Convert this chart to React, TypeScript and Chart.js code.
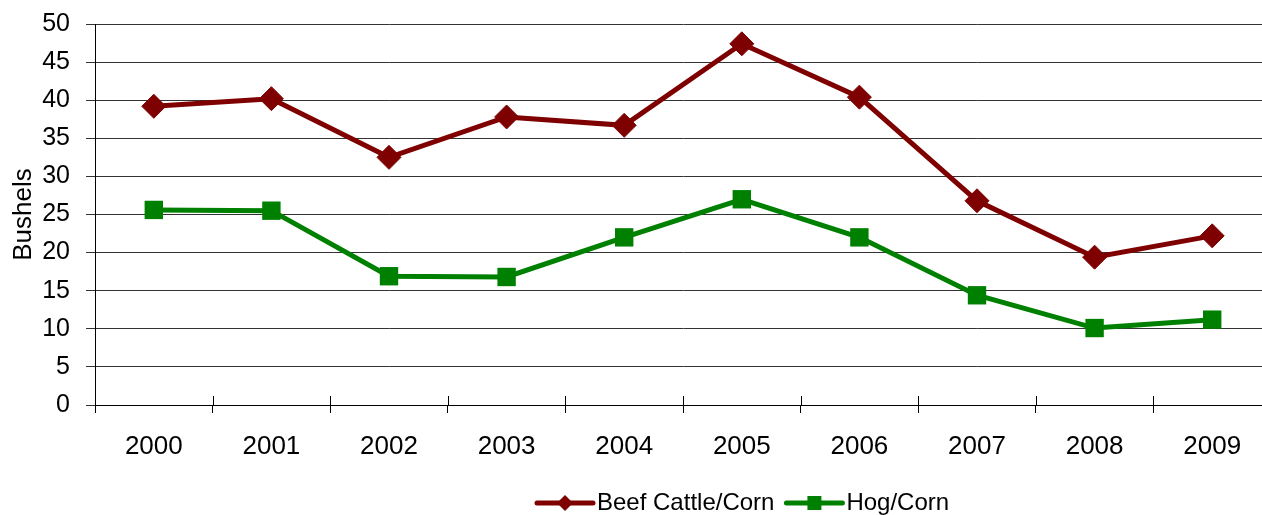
import React, { useEffect, useRef } from "react";
import { Chart, registerables } from "chart.js";

Chart.register(...registerables);

const years = ["2000", "2001", "2002", "2003", "2004", "2005", "2006", "2007", "2008", "2009"];
const beefCattleCorn = [39.2, 40.2, 32.5, 37.8, 36.7, 47.4, 40.4, 26.8, 19.4, 22.2];
const hogCorn = [25.6, 25.5, 16.9, 16.8, 22.0, 27.0, 22.0, 14.4, 10.1, 11.2];
const seriesNames = ["Beef Cattle/Corn", "Hog/Corn"];
const yTicks = [0, 5, 10, 15, 20, 25, 30, 35, 40, 45, 50];

const BEEF = "#7f0000";
const HOG = "#008000";
const FONT = "'Liberation Sans', Arial, Helvetica, sans-serif";

const crossTicks = {
  id: "crossTicks",
  afterDraw(chart: any) {
    const { ctx, chartArea, scales } = chart;
    const x = scales.x;
    const n = years.length;
    const step = (chartArea.right - chartArea.left) / n;
    ctx.save();
    ctx.strokeStyle = "#000";
    ctx.lineWidth = 1;
    for (let i = 1; i < n; i++) {
      const px = Math.round(x.getPixelForValue(i) - step / 2) + 0.5;
      ctx.beginPath();
      ctx.moveTo(px, chartArea.bottom - 9);
      ctx.lineTo(px, chartArea.bottom);
      ctx.stroke();
    }
    ctx.restore();
  },
};

const customLegend = {
  id: "customLegend",
  afterDraw(chart: any) {
    const { ctx } = chart;
    const y = 503;
    let x = 537;
    ctx.save();
    ctx.font = `24px ${FONT}`;
    ctx.textBaseline = "middle";
    chart.data.datasets.forEach((ds: any) => {
      const lineW = 56;
      ctx.strokeStyle = ds.borderColor;
      ctx.lineWidth = 5;
      ctx.lineCap = "round";
      ctx.beginPath();
      ctx.moveTo(x, y);
      ctx.lineTo(x + lineW, y);
      ctx.stroke();
      const cx = x + lineW / 2;
      ctx.fillStyle = ds.pointBackgroundColor;
      ctx.beginPath();
      if (ds.pointStyle === "rectRot") {
        const r = 8;
        ctx.moveTo(cx, y - r);
        ctx.lineTo(cx + r, y);
        ctx.lineTo(cx, y + r);
        ctx.lineTo(cx - r, y);
        ctx.closePath();
      } else {
        ctx.rect(cx - 7, y - 7, 14, 14);
      }
      ctx.fill();
      ctx.fillStyle = "#000";
      const tx = x + lineW + 4;
      ctx.fillText(ds.label, tx, y);
      x = tx + ctx.measureText(ds.label).width + 12;
    });
    ctx.restore();
  },
};

export default function App() {
  const ref = useRef<HTMLCanvasElement | null>(null);
  useEffect(() => {
    if (!ref.current) return;
    const chart = new Chart(ref.current, {
      type: "line",
      data: {
        labels: years,
        datasets: [
          {
            label: seriesNames[0],
            data: beefCattleCorn,
            borderColor: BEEF,
            backgroundColor: BEEF,
            pointBackgroundColor: BEEF,
            pointBorderColor: BEEF,
            borderWidth: 5,
            pointStyle: "rectRot",
            pointRadius: 12,
            pointBorderWidth: 1,
            tension: 0,
          },
          {
            label: seriesNames[1],
            data: hogCorn,
            borderColor: HOG,
            backgroundColor: HOG,
            pointBackgroundColor: HOG,
            pointBorderColor: HOG,
            borderWidth: 5,
            pointStyle: "rect",
            pointRadius: 13,
            pointBorderWidth: 0,
            tension: 0,
          },
        ],
      },
      options: {
        responsive: false,
        animation: false,
        events: [],
        layout: { padding: { top: 24, right: 5, bottom: 0, left: 0 } },
        plugins: {
          legend: { display: false },
          tooltip: { enabled: false },
        },
        scales: {
          x: {
            offset: true,
            grid: {
              offset: true,
              drawOnChartArea: false,
              drawTicks: true,
              tickLength: 8,
              color: "#000",
            },
            border: { display: true, color: "#000", width: 1 },
            ticks: {
              color: "#000",
              font: { family: FONT, size: 26 },
              padding: 18,
              maxRotation: 0,
              autoSkip: false,
            },
            afterFit(scale: any) {
              scale.height = 110;
              scale.paddingLeft = 0;
              scale.paddingRight = 0;
            },
          },
          y: {
            min: 0,
            max: 50,
            afterBuildTicks(scale: any) {
              scale.ticks = yTicks.map((v) => ({ value: v }));
            },
            grid: {
              color: "#333",
              lineWidth: 1,
              drawTicks: true,
              tickLength: 9,
            },
            border: { display: true, color: "#000", width: 1 },
            ticks: {
              color: "#000",
              font: { family: FONT, size: 25 },
              padding: 16,
            },
            title: {
              display: true,
              text: "Bushels",
              color: "#000",
              font: { family: FONT, size: 26 },
              padding: { top: 8, bottom: 0 },
            },
            afterFit(scale: any) {
              scale.width = 95;
              scale.paddingTop = 0;
              scale.paddingBottom = 0;
            },
          },
        },
      },
      plugins: [crossTicks, customLegend],
    });
    return () => chart.destroy();
  }, []);
  return (
    <div
      style={{
        position: "absolute",
        left: 0,
        top: 0,
        width: 1262,
        height: 515,
        overflow: "hidden",
        background: "#fff",
      }}
    >
      <canvas ref={ref} width={1284} height={515} style={{ display: "block" }} />
    </div>
  );
}
